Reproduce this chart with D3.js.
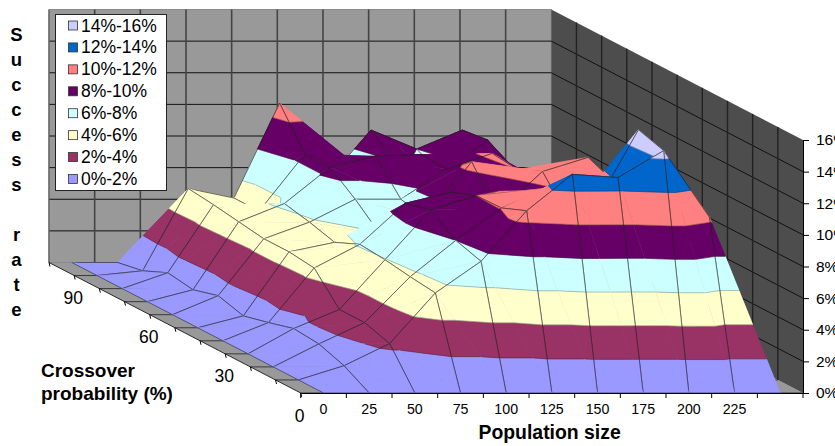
<!DOCTYPE html>
<html>
<head>
<meta charset="utf-8">
<script src="https://cdn.jsdelivr.net/npm/d3@7"></script>
<style>
	html, body { margin: 0; padding: 0; background: #fff; overflow: hidden; }
	text { font-family: "Liberation Sans", Arial, sans-serif; fill: #000; }
</style>
</head>
<body>
<div id="chart"></div>
<script>
const populationSizes = [0, 25, 50, 75, 100, 125, 150, 175, 200, 225, 250];
const crossoverProbs = [0, 10, 20, 30, 40, 50, 60, 70, 80, 90, 100];
const crossoverLabels = [0, 30, 60, 90];
const rateTicks = [0, 2, 4, 6, 8, 10, 12, 14, 16];

// success rate (%) per crossover probability, one value per population size
const rateAt0 = [0, 0, 0, 0, 0, 0, 0, 0, 0, 0, 0];
const rateAt10 = [0, 0.9, 2.3, 5.5, 7.5, 10.7, 13.0, 12.8, 14.5, 10.3, 0];
const rateAt20 = [0, 1.45, 2.8, 5.7, 8.0, 10.05, 11.3, 9.9, 15.0, 9, 0];
const rateAt30 = [0, 1.6, 2.8, 5.95, 9.1, 10.0, 10.3, 8.7, 10.9, 6, 0];
const rateAt40 = [0, 1.15, 4.6, 6.1, 8.7, 9.4, 8.1, 10.7, 11.6, 5, 0];
const rateAt50 = [0, 0.75, 4.8, 5.4, 5.9, 6.9, 10.5, 10.0, 8.5, 3, 0];
const rateAt60 = [0, 1.2, 4.8, 5.85, 7.3, 7.3, 9.2, 10.2, 7.5, 3, 0];
const rateAt70 = [0, 0.75, 5.05, 6.2, 8.5, 9.2, 9.3, 8.8, 8.5, 3, 0];
const rateAt80 = [0, 1.0, 5.3, 4.9, 8.5, 8.1, 7.85, 7.15, 9.4, 3, 0];
const rateAt90 = [0, 0.3, 5.5, 4.9, 10.9, 5.9, 9.2, 8.0, 9.2, 3, 0];
const rateAt100 = [0, 0, 0, 0, 0, 0, 0, 0, 0, 0, 0];
const rates = [rateAt0, rateAt10, rateAt20, rateAt30, rateAt40, rateAt50, rateAt60, rateAt70, rateAt80, rateAt90, rateAt100];

const bandLabels = ["0%-2%", "2%-4%", "4%-6%", "6%-8%", "8%-10%", "10%-12%", "12%-14%", "14%-16%"];
const bandColors = ["#9999ff", "#993366", "#ffffcc", "#ccffff", "#660066", "#ff8080", "#0066cc", "#ccccff"];

// grid lines the original chart leaves out, as "row:column"
const missingRowEdges = ["8:2", "8:4"];

const width = 835;
const height = 446;

const svg = d3.select("#chart").append("svg").attr("width", width).attr("height", height).style("display", "block");

// Oblique projection: population runs to the right, crossover runs back up-left
const frontY = 393;
const floorLeft = 300.7;
const floorRight = 803;
const xScale = d3.scaleBand().domain(populationSizes).range([floorLeft, floorRight]);
const depthX = d3.scalePoint().domain(crossoverProbs).range([0, 251.7]);
const depthY = d3.scalePoint().domain(crossoverProbs).range([0, 130.5]);
const zScale = d3.scaleLinear().domain([0, 16]).range([0, 253]);

const project = (px, prob, z) => ({ x: px - depthX(prob), y: frontY - depthY(prob) - zScale(z), z: z });
const wallPoint = (px, prob, z) => {
	const p = project(px, prob, z);
	return [p.x, p.y];
};
const vertex = (c, r) => project(xScale(populationSizes[c]) + xScale.bandwidth() / 2, crossoverProbs[r], rates[r][c]);

const line = d3.line();
const backProb = crossoverProbs[crossoverProbs.length - 1];
const columnEdges = d3.range(populationSizes.length + 1).map((i) => floorLeft + i * xScale.step());

// Floor
const floorG = svg.append("g");
floorG.append("path")
	.attr("d", line([wallPoint(floorLeft, 0, 0), wallPoint(floorRight, 0, 0), wallPoint(floorRight, backProb, 0), wallPoint(floorLeft, backProb, 0)]) + "Z")
	.attr("fill", "#999999");
crossoverProbs.forEach((p) => {
	floorG.append("path").attr("d", line([wallPoint(floorLeft, p, 0), wallPoint(floorRight, p, 0)])).attr("stroke", "#222").attr("stroke-width", 0.8);
});

// Back wall
const backG = svg.append("g");
backG.append("path")
	.attr("d", line([wallPoint(floorLeft, backProb, 0), wallPoint(floorRight, backProb, 0), wallPoint(floorRight, backProb, 16), wallPoint(floorLeft, backProb, 16)]) + "Z")
	.attr("fill", "#999999")
	.attr("stroke", "#8a8a8a");
rateTicks.slice(1, -1).forEach((t) => {
	backG.append("path").attr("d", line([wallPoint(floorLeft, backProb, t), wallPoint(floorRight, backProb, t)])).attr("stroke", "#111").attr("stroke-width", 1);
});
columnEdges.slice(1, -1).forEach((px) => {
	backG.append("path").attr("d", line([wallPoint(px, backProb, 0), wallPoint(px, backProb, 16)])).attr("stroke", "#444").attr("stroke-width", 1.6);
});
backG.append("path").attr("d", line([wallPoint(floorLeft, backProb, 0), wallPoint(floorLeft, backProb, 16)])).attr("stroke", "#666").attr("stroke-width", 1.4).attr("fill", "none");

// Right wall
const sideG = svg.append("g");
sideG.append("path")
	.attr("d", line([wallPoint(floorRight, 0, 0), wallPoint(floorRight, backProb, 0), wallPoint(floorRight, backProb, 16), wallPoint(floorRight, 0, 16)]) + "Z")
	.attr("fill", "#4d4d4d");
rateTicks.slice(1, -1).forEach((t) => {
	sideG.append("path").attr("d", line([wallPoint(floorRight, 0, t), wallPoint(floorRight, backProb, t)])).attr("stroke", "#111").attr("stroke-width", 1);
});
crossoverProbs.slice(1, -1).forEach((p) => {
	sideG.append("path").attr("d", line([wallPoint(floorRight, p, 0), wallPoint(floorRight, p, 16)])).attr("stroke", "#222").attr("stroke-width", 1.4);
});

// Surface: every grid quad is split along one diagonal and cut into the 2% bands
const surfaceG = svg.append("g");

function clipAbove(poly, level, keepAbove) {
	const out = [];
	poly.forEach((a, i) => {
		const b = poly[(i + 1) % poly.length];
		const aIn = keepAbove ? a.z >= level : a.z <= level;
		const bIn = keepAbove ? b.z >= level : b.z <= level;
		if (aIn) out.push(a);
		if (aIn !== bIn) {
			const t = (level - a.z) / (b.z - a.z);
			out.push({ x: a.x + t * (b.x - a.x), y: a.y + t * (b.y - a.y), z: level });
		}
	});
	return out;
}

function drawTriangle(tri) {
	bandColors.forEach((color, i) => {
		const lo = i * 2;
		const hi = lo + 2;
		if (d3.max(tri, (d) => d.z) <= lo && i > 0) return;
		if (d3.min(tri, (d) => d.z) >= hi) return;
		const poly = clipAbove(clipAbove(tri, lo, true), hi, false);
		if (poly.length < 3) return;
		surfaceG.append("path")
			.attr("d", line(poly.map((d) => [d.x, d.y])) + "Z")
			.attr("fill", color)
			.attr("stroke", color)
			.attr("stroke-width", 0.5);
	});
	// thin dark line where the surface crosses a band level
	rateTicks.slice(1, -1).forEach((level) => {
		const pts = [];
		tri.forEach((a, i) => {
			const b = tri[(i + 1) % 3];
			if (a.z < level !== b.z < level) {
				const t = (level - a.z) / (b.z - a.z);
				pts.push([a.x + t * (b.x - a.x), a.y + t * (b.y - a.y)]);
			}
		});
		if (pts.length === 2) {
			surfaceG.append("path").attr("d", line(pts)).attr("stroke", "#000").attr("stroke-opacity", 0.4).attr("stroke-width", 0.6);
		}
	});
}

function drawEdge(a, b) {
	surfaceG.append("path")
		.attr("d", line([[a.x, a.y], [b.x, b.y]]))
		.attr("stroke", "#222")
		.attr("stroke-width", 0.6);
}

function drawRowEdge(r, c, a, b) {
	if (!missingRowEdges.includes(`${r}:${c}`)) drawEdge(a, b);
}

// back to front
for (let r = crossoverProbs.length - 2; r >= 0; r--) {
	for (let c = populationSizes.length - 2; c >= 0; c--) {
		const p00 = vertex(c, r);
		const p10 = vertex(c + 1, r);
		const p01 = vertex(c, r + 1);
		const p11 = vertex(c + 1, r + 1);
		drawTriangle([p10, p11, p01]);
		drawEdge(p10, p11);
		drawRowEdge(r + 1, c, p01, p11);
		drawTriangle([p00, p10, p01]);
		drawRowEdge(r, c, p00, p10);
		drawEdge(p00, p01);
	}
}

// Axes
const axisFont = "Liberation Sans";

const rateScale = d3.scaleLinear().domain([0, 16]).range([frontY, frontY - 253]);
svg.append("g")
	.attr("transform", `translate(${floorRight}, 0)`)
	.call(d3.axisRight(rateScale).tickValues(rateTicks).tickFormat((d) => d + "%").tickSize(6).tickPadding(7))
	.call((g) => g.select(".domain").attr("stroke", "#000"))
	.selectAll("text")
	.attr("font-family", axisFont)
	.style("font-size", "15.5px");

svg.append("g")
	.attr("transform", `translate(0, ${frontY})`)
	.call(d3.axisBottom(xScale).tickFormat((d) => (d === 250 ? "" : d)).tickSize(0).tickPadding(11))
	.call((g) => g.select(".domain").attr("stroke", "#000"))
	.selectAll("text")
	.attr("font-family", axisFont)
	.style("font-size", "14.2px");

columnEdges.forEach((px) => {
	svg.append("path").attr("d", line([[px, frontY], [px, frontY + 5]])).attr("stroke", "#000");
});

crossoverProbs.forEach((p) => {
	const [tx, ty] = wallPoint(floorLeft, p, 0);
	svg.append("path").attr("d", line([[tx, ty], [tx + 1, ty + 4]])).attr("stroke", "#000");
});
svg.append("path").attr("d", line([wallPoint(floorLeft, 0, 0), wallPoint(floorLeft, backProb, 0)])).attr("stroke", "#000").attr("stroke-width", 0.8);

svg.selectAll(".crossLabel")
	.data(crossoverLabels)
	.join("text")
	.attr("class", "crossLabel")
	.attr("x", (d) => floorLeft - depthX(d) - 1)
	.attr("y", (d) => frontY - depthY(d) + 28.5)
	.attr("text-anchor", "middle")
	.style("font-size", "17.5px")
	.text((d) => d);

// Axis titles
svg.append("text").attr("x", 478.5).attr("y", 439).style("font-size", "19.4px").style("font-weight", "bold").text("Population size");
svg.append("text").attr("x", 41).attr("y", 377).style("font-size", "19px").style("font-weight", "bold").text("Crossover");
svg.append("text").attr("x", 41).attr("y", 400).style("font-size", "19px").style("font-weight", "bold").text("probability (%)");

const titleLetters = ["S", "u", "c", "c", "e", "s", "s", "", "r", "a", "t", "e"];
svg.selectAll(".titleLetter")
	.data(titleLetters)
	.join("text")
	.attr("class", "titleLetter")
	.attr("x", 16.5)
	.attr("y", (d, i) => 41 + i * 25)
	.attr("text-anchor", "middle")
	.style("font-size", "18.5px")
	.style("font-weight", "bold")
	.text((d) => d);

// Legend
const legend = svg.append("g");
legend.append("rect")
	.attr("x", 55.5)
	.attr("y", 14.5)
	.attr("width", 111)
	.attr("height", 176)
	.attr("fill", "#fff")
	.attr("stroke", "#222");
const legendOrder = d3.range(bandLabels.length).reverse();
const legendY = d3.scalePoint().domain(legendOrder).range([25.5, 179]);
legend.selectAll("rect.swatch")
	.data(legendOrder)
	.join("rect")
	.attr("class", "swatch")
	.attr("x", 68.5)
	.attr("y", (d) => legendY(d) - 4.5)
	.attr("width", 9)
	.attr("height", 9)
	.attr("fill", (d) => bandColors[d])
	.attr("stroke", "#333")
	.attr("stroke-width", 0.8);
legend.selectAll("text")
	.data(legendOrder)
	.join("text")
	.attr("x", 81)
	.attr("y", (d) => legendY(d) + 6)
	.style("font-size", "17.5px")
	.text((d) => bandLabels[d]);
</script>
</body>
</html>
